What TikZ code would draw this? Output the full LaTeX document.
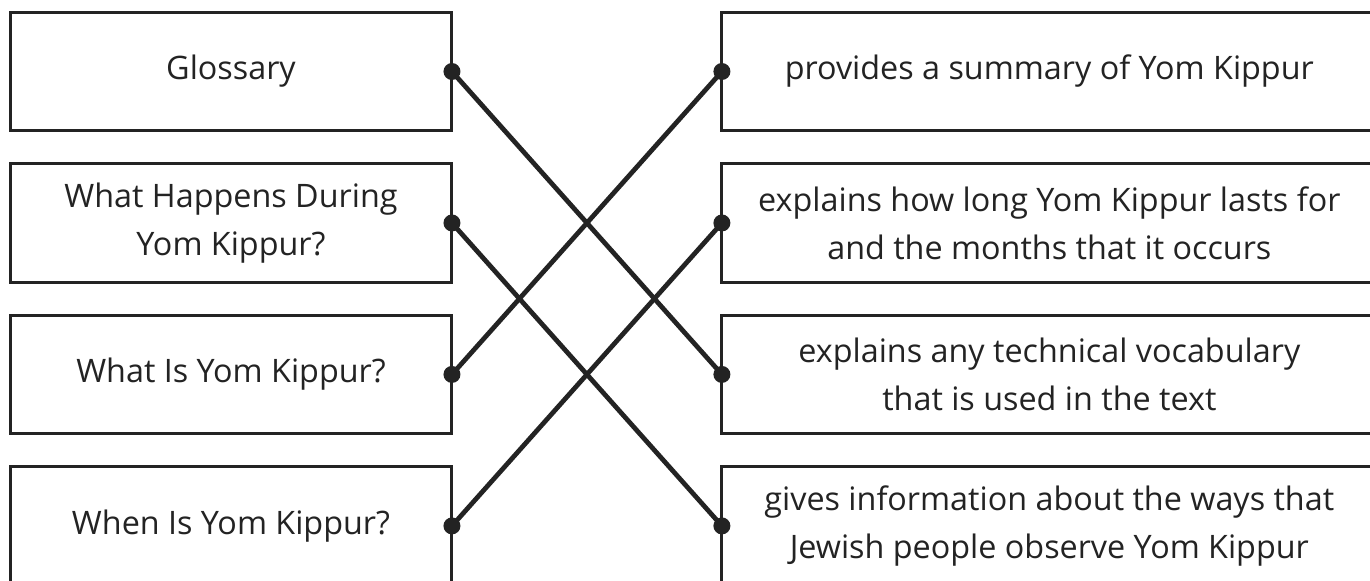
\documentclass[tikz,border=0pt]{standalone}
\usepackage{fontspec}
\newfontfamily\cardfont{Open Sans}
\usetikzlibrary{positioning}
\definecolor{inkgray}{HTML}{232323}

\begin{document}
\begin{tikzpicture}[x=0.02cm, y=-0.02cm,
    card/.style={draw=inkgray, line width=1.7pt, outer sep=0pt, align=center, text=inkgray,
        font=\cardfont\fontsize{18.4}{27.3}\selectfont, minimum height=2.37cm},
    leftcard/.style={card, minimum width=8.84cm},
    rightcard/.style={card, minimum width=13.1cm},
    link/.style={draw=inkgray, line width=2.7pt},
    pin/.style={fill=inkgray}]
    \clip (0,0) rectangle (1370,581);
    \fill[white] (0,0) rectangle (1370,581);

    \node[leftcard] (glossary) at (231,71.5) {Glossary};
    \node[leftcard, below=0.66cm of glossary] (during) {What Happens During\\Yom Kippur?};
    \node[leftcard, below=0.66cm of during] (what) {What Is Yom Kippur?};
    \node[leftcard, below=0.66cm of what] (when) {When Is Yom Kippur?};

    \node[rightcard, right=5.4cm of glossary] (summary) {provides a summary of Yom Kippur};
    \node[rightcard, right=5.4cm of during] (howlong) {explains how long Yom Kippur lasts for\\and the months that it occurs};
    \node[rightcard, right=5.4cm of what] (vocab) {explains any technical vocabulary\\that is used in the text};
    \node[rightcard, right=5.4cm of when] (ways) {gives information about the ways that\\Jewish people observe Yom Kippur};

    \draw[link] (glossary.east) -- (vocab.west);
    \draw[link] (during.east) -- (ways.west);
    \draw[link] (what.east) -- (summary.west);
    \draw[link] (when.east) -- (howlong.west);

    \foreach \n in {glossary, during, what, when}
        \fill[pin] (\n.east) circle (0.17cm);
    \foreach \n in {summary, howlong, vocab, ways}
        \fill[pin] (\n.west) circle (0.17cm);
\end{tikzpicture}
\end{document}
